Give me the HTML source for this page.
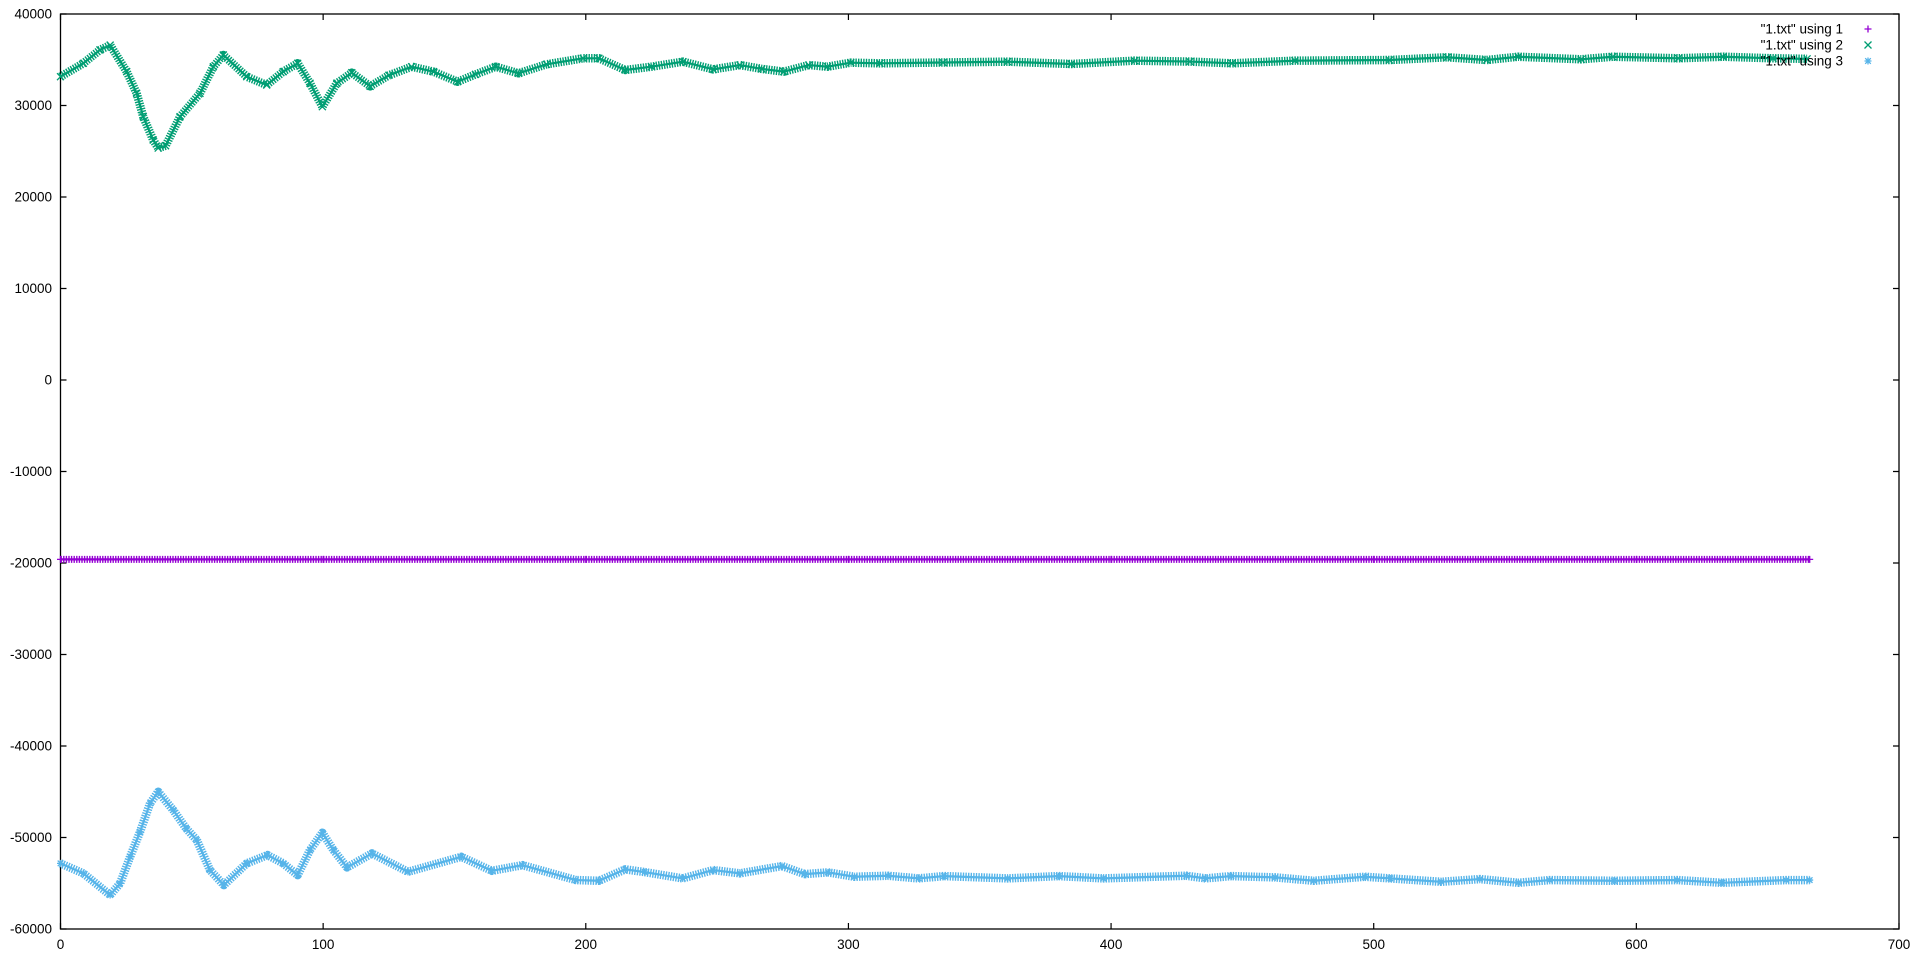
<!DOCTYPE html>
<html><head><meta charset="utf-8"><style>
html,body{margin:0;padding:0;background:#fff;}
svg{display:block;font-family:"Liberation Sans",sans-serif;}
</style></head><body>
<svg id="chart" width="1920" height="961" viewBox="0 0 1920 961" xmlns="http://www.w3.org/2000/svg">
<rect x="0" y="0" width="1920" height="961" fill="#fff"/>
<g id="axes"></g>
<g id="series"></g>
<g id="legend"></g>
</svg>
<script>
const xTicks = [0,100,200,300,400,500,600,700];
const yTicks = [40000,30000,20000,10000,0,-10000,-20000,-30000,-40000,-50000,-60000];
const purpleX = [0,100,200,300,400,500,600,666];
const purpleY = [-19600,-19600,-19600,-19600,-19600,-19600,-19600,-19600];
const greenX = [0,8.7,15,18.9,25.2,29,31.5,35.3,37.2,40,45.5,53.1,58.2,62,70.9,78.5,84.8,90.3,95,99.7,105.2,110.9,117.9,125,133.7,142,151.2,158,165.7,174.4,185,199,205,215,225,237,248.5,258.7,267,275.4,284.9,292,300.9,312,336,360.6,384.8,409,430,446,470,506,528,543,555,579,591,616,633,652,665];
const greenY = [33150,34610,36070,36600,33700,31330,28770,26230,25350,25600,28770,31330,34240,35520,33150,32240,33700,34610,32430,29870,32430,33580,32100,33300,34240,33700,32600,33400,34240,33520,34500,35160,35160,33880,34240,34790,33950,34420,34000,33700,34420,34240,34680,34610,34700,34790,34535,34900,34800,34610,34900,34970,35270,34970,35330,35050,35330,35160,35330,35160,35100];
const blueX = [0,8.7,18.9,22.7,26.5,30.3,34.1,37.2,42.9,47.8,51.9,56.9,62.2,70.9,78.8,84.8,90.3,95,99.7,103.9,109.1,118.6,132.3,152.6,164.2,175.9,196.2,205,215,222.4,236.9,248.5,258.7,274.7,283.4,292.2,302.3,315,326.7,336.4,360.6,380,397,428.6,436,445.8,462.5,477.2,496.6,506.3,525.7,540.4,555,567,591.4,615.6,632.7,657,666];
const blueY = [-52830,-53920,-56290,-55010,-52110,-49370,-46270,-45000,-47000,-49000,-50280,-53560,-55200,-52830,-51920,-52830,-54110,-51370,-49480,-51370,-53270,-51740,-53750,-52110,-53640,-53020,-54650,-54730,-53480,-53780,-54470,-53560,-53920,-53120,-54000,-53810,-54290,-54180,-54470,-54217,-54470,-54217,-54470,-54180,-54470,-54217,-54360,-54730,-54290,-54470,-54840,-54545,-54950,-54654,-54730,-54654,-54950,-54654,-54654];
const seriesNames = ['"1.txt" using 1','"1.txt" using 2','"1.txt" using 3'];

const NS="http://www.w3.org/2000/svg";
const L=60.5,R=1899,T=14,B=929;
const xMin=0,xMax=700,yMin=-60000,yMax=40000;
function sx(v){return L+(v-xMin)/(xMax-xMin)*(R-L);}
function sy(v){return B-(v-yMin)/(yMax-yMin)*(B-T);}
function mk(tag,attrs,parent){const e=document.createElementNS(NS,tag);for(const k in attrs)e.setAttribute(k,attrs[k]);parent.appendChild(e);return e;}
const axes=document.getElementById('axes');
const frame=mk('rect',{x:L,y:T,width:R-L,height:B-T,fill:'none',stroke:'#000','stroke-width':1.3},axes);


xTicks.forEach(t=>{
  const x=sx(t);
  const tk=mk('path',{d:`M${x},${B}v-6M${x},${T}v6`,stroke:'#000','stroke-width':1.2},axes);
  
  
  const lb=mk('text',{x:x,y:B+20,'text-anchor':'middle','font-size':13.5,fill:'#000'},axes);
  lb.textContent=t;
  
  
});
yTicks.forEach(t=>{
  const y=sy(t);
  const tk=mk('path',{d:`M${L},${y}h6M${R},${y}h-6`,stroke:'#000','stroke-width':1.2},axes);
  
  
  const lb=mk('text',{x:52,y:y+4.5,'text-anchor':'end','font-size':13.5,fill:'#000'},axes);
  lb.textContent=t;
  
  
});
function marker(type,x,y,c,parent,s){
  s=s||3.5;
  let d;
  if(type==='plus')d=`M${x-s},${y}h${2*s}M${x},${y-s}v${2*s}`;
  else if(type==='cross')d=`M${x-s},${y-s}l${2*s},${2*s}M${x-s},${y+s}l${2*s},${-2*s}`;
  else d=`M${x-s},${y}h${2*s}M${x},${y-s}v${2*s}M${x-s*0.8},${y-s*0.8}l${1.6*s},${1.6*s}M${x-s*0.8},${y+s*0.8}l${1.6*s},${-1.6*s}`;
  return mk('path',{d:d,stroke:c,'stroke-width':1.3,fill:'none'},parent);
}
const series=document.getElementById('series');
function drawSeries(xs,ys,color,type,name,bw){
  const g=mk('g',{},series);
  
  
  const pts=xs.map((x,i)=>sx(x).toFixed(2)+','+sy(ys[i]).toFixed(2)).join(' ');
  const band=mk('polyline',{points:pts,fill:'none',stroke:color,'stroke-width':bw,'stroke-dasharray':'1.4 1.2','stroke-linejoin':'round'},g);
  
  
  const ln=mk('polyline',{points:pts,fill:'none',stroke:color,'stroke-width':2.2,'stroke-linejoin':'round'},g);
  
  
  xs.forEach((x,i)=>{
    const m=marker(type,sx(x),sy(ys[i]),color,g);
    
    
  });
}
drawSeries(purpleX,purpleY,'#9400d3','plus','series-using-1',7);
drawSeries(greenX,greenY,'#009e73','cross','series-using-2',8.5);
drawSeries(blueX,blueY,'#56b4e9','star','series-using-3',8.5);
const legend=document.getElementById('legend');
const lColors=['#9400d3','#009e73','#56b4e9'];
const lTypes=['plus','cross','star'];
seriesNames.forEach((n,i)=>{
  const y=29+i*16;
  const t=mk('text',{x:1843,y:y+4.5,'text-anchor':'end','font-size':13.5,fill:'#000'},legend);
  t.textContent=n;
  
  
  const m=marker(lTypes[i],1868,y,lColors[i],legend);
  
  
});
</script>
</body></html>
